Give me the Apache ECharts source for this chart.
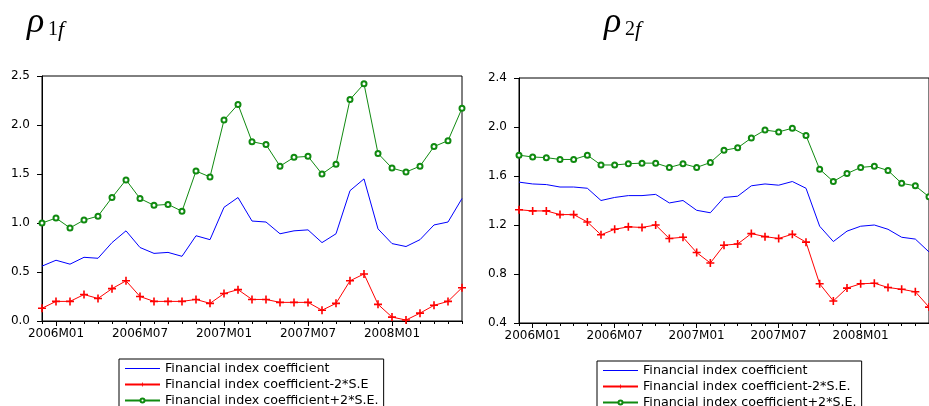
<!DOCTYPE html>
<html>
<head>
<meta charset="utf-8">
<script src="https://cdn.jsdelivr.net/npm/echarts@6/dist/echarts.min.js"></script>
<style>
html,body{margin:0;padding:0;background:#fff;}
#c{width:929px;height:406px;}
</style>
</head>
<body>
<div id="c"></div>
<script>
// months 2005M12 .. 2008M06
const months = ["2005M12","2006M01","2006M02","2006M03","2006M04","2006M05","2006M06","2006M07","2006M08","2006M09","2006M10","2006M11","2006M12",
"2007M01","2007M02","2007M03","2007M04","2007M05","2007M06","2007M07","2007M08","2007M09","2007M10","2007M11","2007M12",
"2008M01","2008M02","2008M03","2008M04","2008M05","2008M06"];

// Panel 1 (rho_1f)
const mid1 = [0.56,0.62,0.58,0.65,0.64,0.80,0.92,0.75,0.69,0.70,0.66,0.87,0.83,1.16,1.26,1.02,1.01,0.89,0.92,0.93,0.80,0.89,1.33,1.45,0.94,0.79,0.76,0.83,0.98,1.01,1.25];
const lo1  = [0.13,0.20,0.20,0.27,0.23,0.33,0.41,0.25,0.20,0.20,0.20,0.22,0.18,0.28,0.32,0.22,0.22,0.19,0.19,0.19,0.11,0.18,0.41,0.48,0.17,0.04,0.01,0.08,0.16,0.20,0.34];
const hi1  = [1.00,1.05,0.95,1.03,1.07,1.26,1.44,1.25,1.18,1.19,1.12,1.53,1.47,2.05,2.21,1.83,1.80,1.58,1.67,1.68,1.50,1.60,2.26,2.42,1.71,1.56,1.52,1.58,1.78,1.84,2.17];

// Panel 2 (rho_2f)
const hi2  = [1.77,1.755,1.75,1.735,1.735,1.77,1.69,1.69,1.70,1.705,1.705,1.67,1.70,1.67,1.71,1.81,1.83,1.91,1.975,1.96,1.99,1.93,1.655,1.555,1.62,1.67,1.68,1.645,1.54,1.52,1.43];
const mid2 = [1.55,1.535,1.53,1.51,1.51,1.50,1.40,1.425,1.44,1.44,1.45,1.38,1.40,1.32,1.30,1.425,1.435,1.52,1.535,1.525,1.555,1.50,1.19,1.065,1.15,1.19,1.20,1.165,1.10,1.085,0.98];
const lo2  = [1.325,1.315,1.315,1.285,1.285,1.225,1.12,1.165,1.185,1.18,1.20,1.09,1.10,0.975,0.89,1.035,1.045,1.13,1.105,1.09,1.125,1.06,0.72,0.58,0.685,0.72,0.725,0.69,0.675,0.655,0.53];

const names1 = ["Financial index coefficient","Financial index coefficient-2*S.E","Financial index coefficient+2*S.E."];
const names2 = ["Financial index coefficient","Financial index coefficient-2*S.E.","Financial index coefficient+2*S.E."];

const FONT = "DejaVu Sans";
const BLUE = "#0000ff", RED = "#ff0000", GREEN = "#108a10";
const PLUS = "path://M4,0H6V4H10V6H6V10H4V6H0V4H4Z";
const LINE_ICON = "path://M0,0H0.01V0.01H0Z M0,2H35V3H0Z M34.99,4.99H35V5H34.99Z";
const isMajor = (i) => (i - 1) % 6 === 0;

function xAxes(g){
  return [
    {gridIndex:g, type:"category", data:months, boundaryGap:false, position:"bottom",
     axisLine:{show:true, onZero:false, lineStyle:{color:"#000", width:1}},
     axisTick:{show:true, interval:0, length:3, lineStyle:{color:"#000"}},
     axisLabel:{show:false}, splitLine:{show:false}},
    {gridIndex:g, type:"category", data:months, boundaryGap:false, position:"bottom",
     axisLine:{show:false, onZero:false},
     axisTick:{show:true, interval:isMajor, length:5, lineStyle:{color:"#000"}},
     axisLabel:{show:true, interval:isMajor, margin:7, color:"#000", fontFamily:FONT, fontSize:12},
     splitLine:{show:false}}
  ];
}
function yAxis(g, min, max, step){
  return {gridIndex:g, type:"value", min:min, max:max, interval:step,
    axisLine:{show:true, lineStyle:{color:"#000", width:1}},
    axisTick:{show:true, length:5, lineStyle:{color:"#000"}},
    axisLabel:{margin:12, color:"#000", fontFamily:FONT, fontSize:12, formatter:(v)=>v.toFixed(1)},
    splitLine:{show:false}};
}
function seriesSet(g, names, mid, lo, hi){
  const xi = g*2, yi = g;
  return [
    {name:names[0], type:"line", xAxisIndex:xi, yAxisIndex:yi, data:mid, symbol:"none",
     lineStyle:{color:BLUE, width:1}, itemStyle:{color:BLUE}},
    {name:names[1], type:"line", xAxisIndex:xi, yAxisIndex:yi, data:lo, symbol:PLUS, symbolSize:8,
     lineStyle:{color:RED, width:1}, itemStyle:{color:RED}},
    {name:names[2], type:"line", xAxisIndex:xi, yAxisIndex:yi, data:hi, symbol:"emptyCircle", symbolSize:5,
     lineStyle:{color:GREEN, width:1}, itemStyle:{color:GREEN, borderColor:GREEN, borderWidth:1}}
  ];
}
function legend(left, top, names){
  return {show:true, orient:"vertical", left:left, top:top, height:120,
    data:[{name:names[0], icon:LINE_ICON, itemStyle:{color:BLUE}}, {name:names[1]}, {name:names[2]}],
    padding:[3,5,10,5], itemGap:3, itemWidth:35, itemHeight:5,
    borderColor:"#000", borderWidth:1, backgroundColor:"#fff",
    selectedMode:false,
    textStyle:{color:"#000", fontFamily:FONT, fontSize:12.7, lineHeight:12}};
}
function title(x, sub){
  return [
    {type:"text", left:x, top:5, style:{text:"ρ", font:"italic 36px 'Liberation Serif'", fill:"#000"}},
    {type:"text", left:x+21, top:20, style:{text:sub, font:"20px 'Liberation Serif'", fill:"#000"}},
    {type:"text", left:x+31, top:19, style:{text:"f", font:"italic 22px 'Liberation Serif'", fill:"#000"}}
  ];
}

const chart = echarts.init(document.getElementById("c"), null, {renderer:"canvas"});
chart.setOption({
  animation:false,
  backgroundColor:"#fff",
  grid:[
    {left:42, top:76, width:420, height:245, show:true, borderColor:"#000", borderWidth:1, containLabel:false},
    {left:519, top:78, width:420, height:245, show:true, borderColor:"#000", borderWidth:1, containLabel:false}
  ],
  xAxis: xAxes(0).concat(xAxes(1)),
  yAxis: [yAxis(0, 0, 2.5, 0.5), yAxis(1, 0.4, 2.4, 0.4)],
  legend:[legend(119, 359, names1), legend(597, 361, names2)],
  series: seriesSet(0, names1, mid1, lo1, hi1).concat(seriesSet(1, names2, mid2, lo2, hi2)),
  graphic: title(27, "1").concat(title(604, "2"))
});
</script>
</body>
</html>
